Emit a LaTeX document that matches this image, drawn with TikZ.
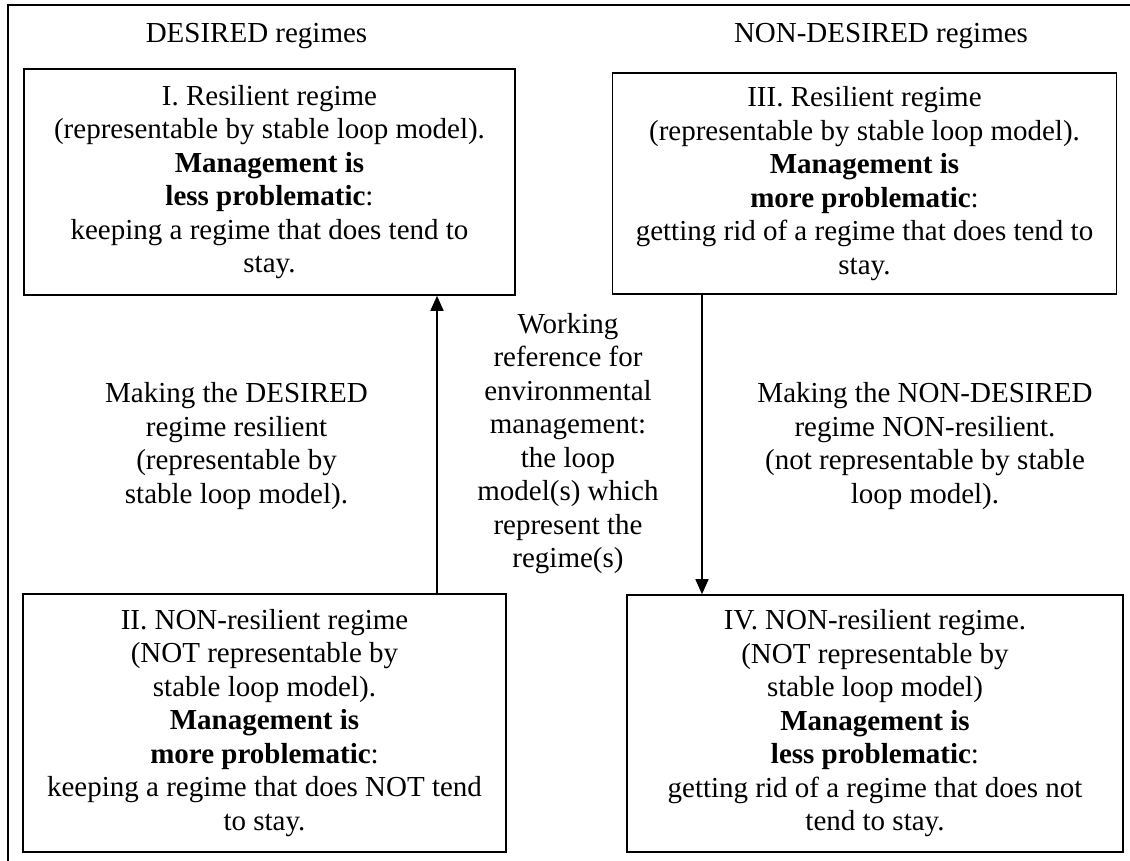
\documentclass[tikz,border=0pt]{standalone}
\usepackage{fontspec}
\setmainfont{Liberation Serif}
\usetikzlibrary{arrows.meta}
\begin{document}
\begin{tikzpicture}[x=1pt,y=-1pt,
  txt/.style={inner sep=0pt,align=center,font=\fontsize{29}{33.5}\selectfont},
  regbox/.style={txt,draw,line width=1.6pt},
  arr/.style={line width=1.6pt,-{Triangle[length=15pt,width=13pt]}}]
\useasboundingbox (0,0) rectangle (1130,861);
\fill[white] (0,0) rectangle (1130,861);
\draw[line width=1.6pt] (1130,5) -- (8,5) -- (8,861);
\node[txt,anchor=base] (tD) at (256.5,43) {DESIRED regimes};
\node[txt,anchor=base] (tN) at (881,43) {NON-DESIRED regimes};
\node[regbox,minimum width=491pt,minimum height=226pt] (I) at (269.5,182)
  {I. Resilient regime\\(representable by stable loop model).\\\textbf{Management is}\\\textbf{less problematic}:\\keeping a regime that does tend to\\stay.};
\node[regbox,minimum width=504pt,minimum height=221pt] (III) at (864.5,183.5)
  {III. Resilient regime\\(representable by stable loop model).\\\textbf{Management is}\\\textbf{more problematic}:\\getting rid of a regime that does tend to\\stay.};
\node[regbox,minimum width=483pt,minimum height=258pt] (II) at (264.5,723)
  {II. NON-resilient regime\\(NOT representable by\\stable loop model).\\\textbf{Management is}\\\textbf{more problematic}:\\keeping a regime that does NOT tend\\to stay.};
\node[regbox,minimum width=496pt,minimum height=257pt] (IV) at (875,723.5)
  {IV. NON-resilient regime.\\(NOT representable by\\stable loop model)\\\textbf{Management is}\\\textbf{less problematic}:\\getting rid of a regime that does not\\tend to stay.};
\coordinate (upx) at (437,0);
\coordinate (dnx) at (702,0);
\draw[arr] (II.north -| upx) -- (I.south -| upx);
\draw[arr] (III.south -| dnx) -- (IV.north -| dnx);
\node[txt] (mid) at (568,443.5) {Working\\reference for\\environmental\\management:\\the loop\\model(s) which\\represent the\\regime(s)};
\node[txt] (lab1) at (236.5,446) {Making the DESIRED\\regime resilient\\(representable by\\stable loop model).};
\node[txt] (lab2) at (925,446) {Making the NON-DESIRED\\regime NON-resilient.\\(not representable by stable\\loop model).};
\end{tikzpicture}
\end{document}
